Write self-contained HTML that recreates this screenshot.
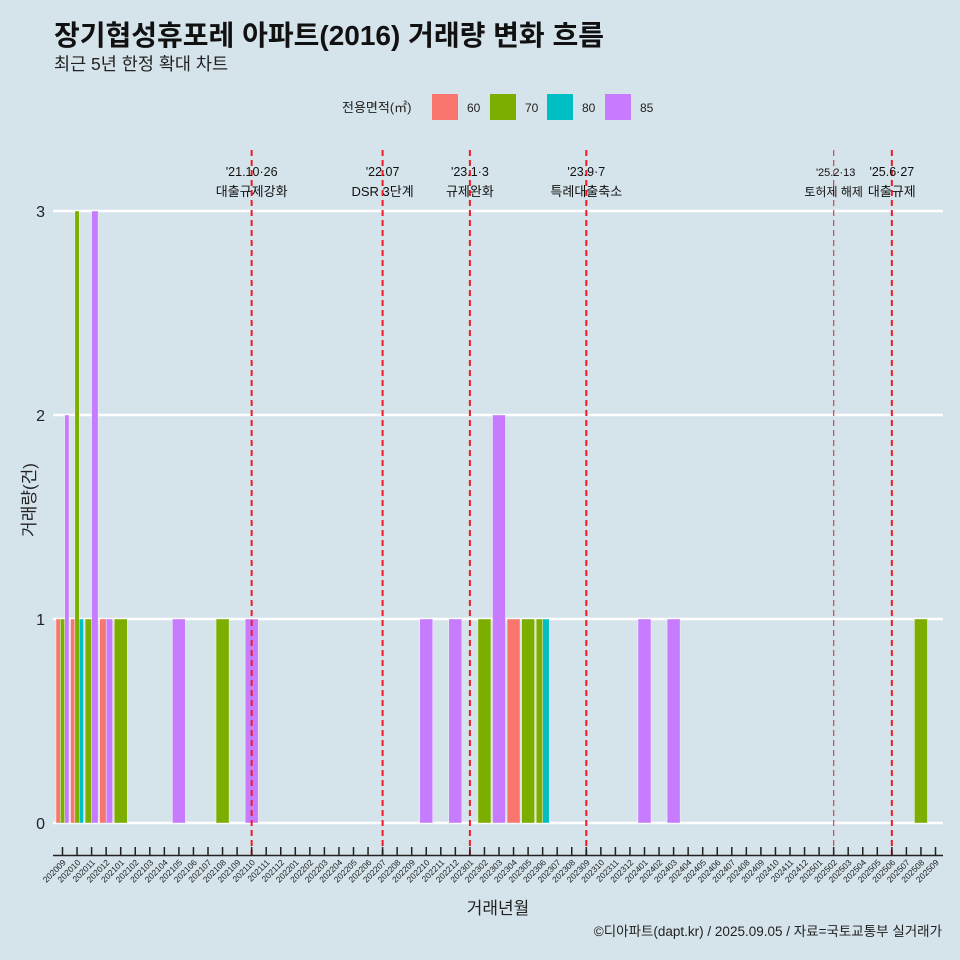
<!DOCTYPE html>
<html><head><meta charset="utf-8"><style>
body{margin:0;background:#d5e3ea;}
svg{display:block;font-family:"Liberation Sans","Noto Sans CJK KR",sans-serif;}
</style></head><body>
<svg id="c" width="960" height="960" viewBox="0 0 960 960">
<rect width="960" height="960" fill="#d5e3ea"/>
<text x="54" y="45" font-size="28" font-weight="bold" fill="#111">장기협성휴포레 아파트(2016) 거래량 변화 흐름</text>
<text x="54" y="70" font-size="17.5" fill="#222">최근 5년 한정 확대 차트</text>
<g>
<text x="342" y="112" font-size="13" fill="#222">전용면적(㎡)</text>
<rect x="432" y="94" width="26" height="26" fill="#F8766D"/>
<text x="467" y="112" font-size="12" fill="#222">60</text>
<rect x="490" y="94" width="26" height="26" fill="#7CAE00"/>
<text x="525" y="112" font-size="12" fill="#222">70</text>
<rect x="547" y="94" width="26" height="26" fill="#00BFC4"/>
<text x="582" y="112" font-size="12" fill="#222">80</text>
<rect x="605" y="94" width="26" height="26" fill="#C77CFF"/>
<text x="640" y="112" font-size="12" fill="#222">85</text>
</g>
<g id="grid"></g><g id="bars"></g><g id="events"></g><g id="axes"></g>
<text x="35" y="500" font-size="17" fill="#222" text-anchor="middle" transform="rotate(-90 35 500)">거래량(건)</text>
<text x="498" y="914" font-size="17" fill="#222" text-anchor="middle">거래년월</text>
<text x="942" y="936" font-size="13.5" fill="#222" text-anchor="end">©디아파트(dapt.kr) / 2025.09.05 / 자료=국토교통부 실거래가</text>
</svg>
<script>
const months=[];
for(let y=2020,m=9;!(y===2025&&m===10);m++){if(m>12){m=1;y++;}if(y===2025&&m===10)break;months.push(''+y+(m<10?'0':'')+m);}
const sizes=['60','70','80','85'];
const colors={'60':'#F8766D','70':'#7CAE00','80':'#00BFC4','85':'#C77CFF'};
const barMonths=['202009','202009','202009','202010','202010','202010','202011','202011','202012','202012','202101','202105','202108','202110','202210','202212','202302','202303','202304','202305','202306','202306','202401','202403','202508'];
const barSizes=['60','70','85','60','70','80','70','85','60','85','70','85','70','85','85','85','70','85','60','70','70','80','85','85','70'];
const barValues=[1,1,2,1,3,1,1,3,1,1,1,1,1,1,1,1,1,2,1,1,1,1,1,1,1];
const yTicks=[0,1,2,3];
const eventMonths=['202110','202207','202301','202309','202502','202506'];
const eventDates=["'21.10·26","'22.07","'23.1·3","'23.9·7","'25.2·13","'25.6·27"];
const eventLabels=['대출규제강화','DSR 3단계','규제완화','특례대출축소','토허제 해제','대출규제'];

const NS='http://www.w3.org/2000/svg';
function mk(t,a,p){const e=document.createElementNS(NS,t);for(const k in a)e.setAttribute(k,a[k]);p.appendChild(e);return e;}
const x=m=>62.5+months.indexOf(m)*14.55;
const y=v=>823-v*204;
const slot=13;
const grid=document.getElementById('grid');
yTicks.forEach(t=>{
 const l=mk('line',{x1:53,x2:943,y1:y(t),y2:y(t),stroke:'#fff','stroke-width':2.5},grid);
 
 
 const tx=mk('text',{x:45,y:y(t)+6,'font-size':16,'text-anchor':'end',fill:'#222'},grid);
 tx.textContent=t;
 
 
});
const bars=document.getElementById('bars');
barMonths.forEach((m,i)=>{
 const grp=barMonths.map((mm,j)=>mm===m?j:-1).filter(j=>j>=0);
 const n=grp.length,k=grp.indexOf(i),w=slot/n;
 const x0=x(m)-slot/2+k*w;
 const r=mk('rect',{x:x0,y:y(barValues[i]),width:w,height:y(0)-y(barValues[i]),fill:colors[barSizes[i]],stroke:'#fff','stroke-width':0.4},bars);
 
 
});
const ev=document.getElementById('events');
eventMonths.forEach((m,i)=>{
 const thin=m==='202502';
 const l=mk('line',{x1:x(m),x2:x(m),y1:150,y2:856,stroke:thin?'#e8474c':'#ee1c24','stroke-width':thin?1.3:2,'stroke-dasharray':'6 4'},ev);
 
 
 const t1=mk('text',{x:x(m)+(thin?2:0),y:176,'font-size':thin?11:12.5,'text-anchor':'middle',fill:'#111'},ev);
 t1.textContent=eventDates[i];
 
 
 const t2=mk('text',{x:x(m),y:196,'font-size':thin?12:13,'text-anchor':'middle',fill:'#111'},ev);
 t2.textContent=eventLabels[i];
 
 
});
const ax=document.getElementById('axes');
const al=mk('line',{x1:53,x2:943,y1:855.5,y2:855.5,stroke:'#222','stroke-width':1.5},ax);


months.forEach(m=>{
 const t=mk('line',{x1:x(m),x2:x(m),y1:847,y2:856,stroke:'#222','stroke-width':1.5},ax);
 
 
 const tx=mk('text',{x:x(m)+4,y:863,'font-size':8.5,'text-anchor':'end',fill:'#222',transform:'rotate(-45 '+(x(m)+4)+' 863)'},ax);
 tx.textContent=m;
 
 
});
</script>
</body></html>
